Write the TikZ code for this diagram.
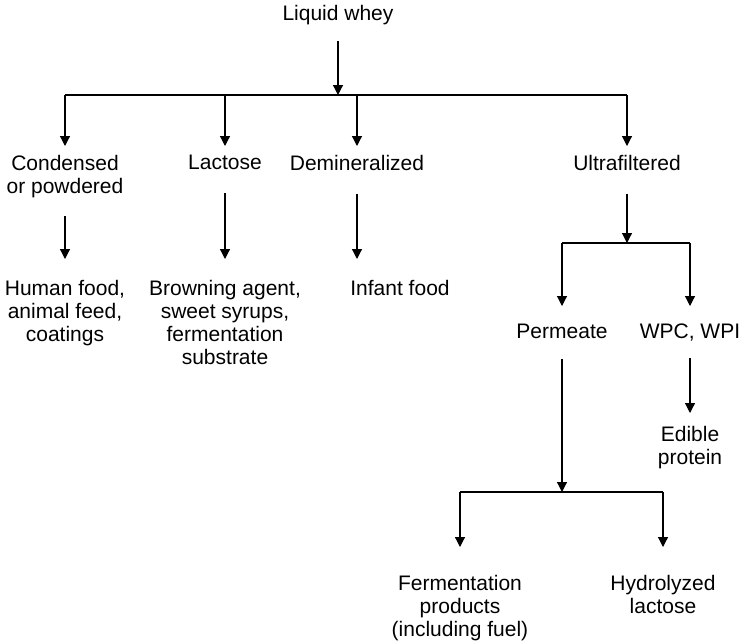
\documentclass[tikz,border=0pt]{standalone}
\usepackage{fontspec}
\setmainfont{Liberation Sans}
\usetikzlibrary{arrows.meta}

\begin{document}
\begin{tikzpicture}[x=1pt, y=-1pt,
  txt/.style={font=\fontsize{21}{23}\selectfont, align=center, inner sep=0pt, anchor=north},
  line/.style={line width=1.2pt},
  arr/.style={line, -{Triangle[length=10pt, width=10pt]}},
]
\useasboundingbox (0,0) rectangle (741,643);

% Source
\node[txt] (whey) at (338,5) {Liquid whey};

% First split
\node[txt] (cond)  at (65,155)  {Condensed\\or powdered};
\node[txt] (lact)  at (225,155) {Lactose};
\node[txt] (demin) at (357,155) {Demineralized};
\node[txt] (ultra) at (627,155) {Ultrafiltered};

% Uses
\node[txt] (human)  at (65,280)  {Human food,\\animal feed,\\coatings};
\node[txt] (brown)  at (225,280) {Browning agent,\\sweet syrups,\\fermentation\\substrate};
\node[txt] (infant) at (400,280) {Infant food};

% Ultrafiltration products
\node[txt] (perm)   at (562,324) {Permeate};
\node[txt] (wpc)    at (690,324) {WPC, WPI};
\node[txt] (edible) at (690,426) {Edible\\protein};

% Permeate products
\node[txt] (ferm)  at (460,575) {Fermentation\\products\\(including fuel)};
\node[txt] (hydro) at (663,575) {Hydrolyzed\\lactose};

% Junctions
\coordinate (j0) at (338,95);
\coordinate (j1) at (627,243);
\coordinate (j2) at (562,492);

% Liquid whey split
\draw[arr, shorten <=16pt] (whey.south) -- (j0);
\draw[line] (cond.north |- j0) -- (ultra.north |- j0);
\foreach \n in {cond,lact,demin,ultra}
  \draw[arr, shorten >=9pt] (\n.north |- j0) -- (\n.north);

% Down to uses
\draw[arr, shorten <=18pt, shorten >=21pt] (cond.south) -- (human.north);
\draw[arr, shorten <=23pt, shorten >=21pt] (lact.south) -- (brown.north);
\draw[arr, shorten <=23pt, shorten >=21pt] (demin.south) -- (demin.south |- infant.north);

% Ultrafiltered split
\draw[arr, shorten <=23pt] (ultra.south) -- (j1);
\draw[line] (perm.north |- j1) -- (wpc.north |- j1);
\draw[arr, shorten >=18pt] (perm.north |- j1) -- (perm.north);
\draw[arr, shorten >=18pt] (wpc.north |- j1) -- (wpc.north);
\draw[arr, shorten <=16pt, shorten >=13pt] (wpc.south) -- (edible.north);

% Permeate split
\draw[arr, shorten <=20pt] (perm.south) -- (j2);
\draw[line] (ferm.north |- j2) -- (hydro.north |- j2);
\draw[arr, shorten >=28pt] (ferm.north |- j2) -- (ferm.north);
\draw[arr, shorten >=28pt] (hydro.north |- j2) -- (hydro.north);
\end{tikzpicture}
\end{document}
